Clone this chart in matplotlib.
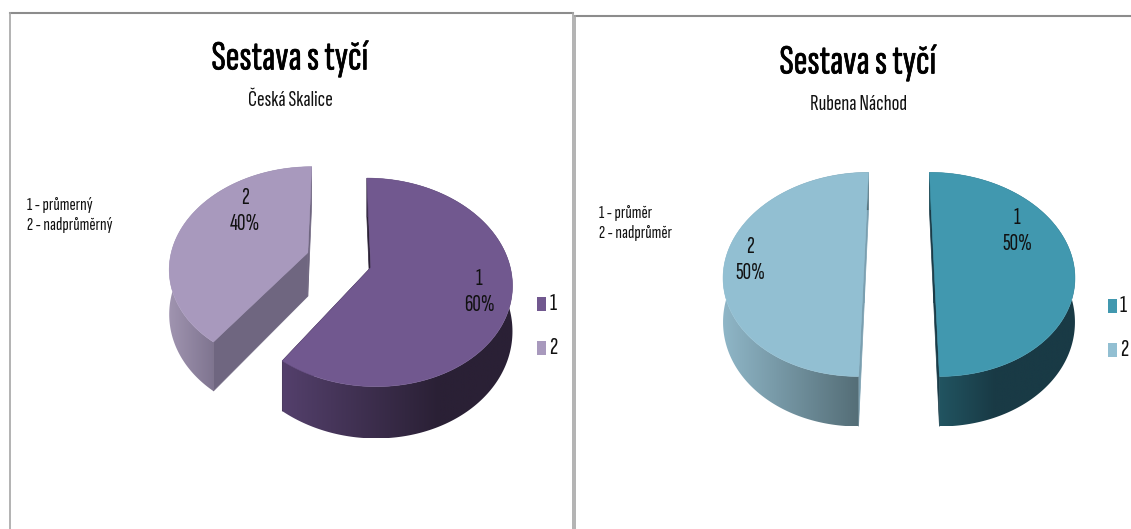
import matplotlib
matplotlib.use('Agg')
import matplotlib.pyplot as plt
import matplotlib.patheffects as pe
import numpy as np
from matplotlib.colors import LinearSegmentedColormap
from matplotlib.patches import Polygon, Rectangle

plt.rcParams['font.family'] = ['Sofia Sans Extra Condensed', 'Pathway Gothic One', 'Lato', 'DejaVu Sans']

title = 'Sestava s tyčí'
subtitles = ['Česká Skalice', 'Rubena Náchod']
notes = ['1 - průmerný\n2 - nadprůměrný', '1 - průměr\n2 - nadprůměr']
categories = ['1', '2']
values_left = [60, 40]
values_right = [50, 50]

top_left = ['#71588f', '#a899bd']
top_right = ['#4198af', '#92bfd2']
cut_left = ['#2b2136', '#6f6680']
cut_right = ['#1a3b47', '#7a9fb0']
# side gradient: left colour, right colour, where the right colour is reached
side_left = [('#54406c', '#2a2035', 0.68), ('#a094b0', '#7d738e', 0.33)]
side_right = [('#235966', '#193a45', 0.45), ('#8fb6c7', '#536c75', 0.95)]


def project(pts, p):
    # flat pie plane -> pixels, simple perspective
    pts = np.asarray(pts)
    w = 1 + p['k'] * pts[:, 1]
    return np.column_stack([p['cx'] + p['b'] * pts[:, 0] / w, p['cy'] - p['a'] * pts[:, 1] / w])


def extruded(pts, p):
    pts = np.asarray(pts)
    out = project(pts, p)
    out[:, 1] += p['depth'] / (1 + p['k'] * pts[:, 1])
    return out


def draw_pie(ax, scratch, values, tops, cuts, sides, p):
    wedges, _ = scratch.pie(values, explode=[p['explode']] * len(values), startangle=90, counterclock=False)
    for w, top, cut, side in zip(wedges, tops, cuts, sides):
        th = np.radians(np.linspace(w.theta1, w.theta2, 240))
        c = np.array(w.center)
        arc = c + w.r * np.column_stack([np.cos(th), np.sin(th)])
        # cut faces
        for end in (arc[0], arc[-1]):
            line = np.array([c, end])
            a, b = project(line, p), extruded(line, p)
            ax.add_patch(Polygon([a[0], a[1], b[1], b[0]], fc=cut, ec=cut, lw=0.5, zorder=2))
        # outer wall, gradient clipped to the wall outline
        a, b = project(arc, p), extruded(arc, p)
        wall = Polygon(np.vstack([a, b[::-1]]), fc='none', ec='none', transform=ax.transData)
        ax.add_patch(wall)
        cmap = LinearSegmentedColormap.from_list('side', [(0, side[0]), (side[2], side[1]), (1, side[1])])
        img = ax.imshow(np.linspace(0, 1, 256)[None, :], cmap=cmap, aspect='auto', zorder=3,
                        extent=(a[:, 0].min(), a[:, 0].max(), b[:, 1].max(), a[:, 1].min()))
        img.set_clip_path(wall)
        # top face
        ax.add_patch(Polygon(np.vstack([project([c], p), a]), fc=top, ec=top, lw=0.4, zorder=4))


fig = plt.figure(figsize=(11.31, 5.29), dpi=100)
scratch = fig.add_axes([0, 0, 0.01, 0.01])
ax = fig.add_axes([0, 0, 1, 1])
ax.axis('off')

# panel frames
ax.plot([10, 573], [13, 13], color='#8c8c8c', lw=1.5, zorder=1)
ax.plot([10, 10], [13, 529], color='#a6a6a6', lw=1.2, zorder=1)
ax.plot([573, 573], [13, 529], color='#a6a6a6', lw=1.2, zorder=1)
ax.plot([575, 1131], [16, 16], color='#8c8c8c', lw=1.5, zorder=1)
ax.plot([575, 575], [16, 529], color='#a6a6a6', lw=1.2, zorder=1)

left = dict(cx=339, cy=260, a=100, b=138, k=0.141, explode=0.24, depth=44)
right = dict(cx=899, cy=260, a=100, b=139, k=0.141, explode=0.25, depth=43)
draw_pie(ax, scratch, values_left, top_left, cut_left, side_left, left)
draw_pie(ax, scratch, values_right, top_right, cut_right, side_right, right)
scratch.remove()

ax.set_xlim(0, 1131)
ax.set_ylim(529, 0)

txt = '#111111'
bold = [pe.withStroke(linewidth=0.5, foreground='black')]
ax.text(290, 59, title, fontsize=30, ha='center', va='center', color='black', path_effects=bold)
ax.text(858, 63, title, fontsize=30, ha='center', va='center', color='black', path_effects=bold)
ax.text(290, 100, subtitles[0], fontsize=16.5, ha='center', va='center', color=txt)
ax.text(858, 104, subtitles[1], fontsize=16.5, ha='center', va='center', color=txt)
ax.text(27, 215, notes[0], fontsize=13.5, ha='left', va='center', color=txt, linespacing=1.3)
ax.text(599, 223, notes[1], fontsize=13.5, ha='left', va='center', color=txt, linespacing=1.3)

label_size = 17
ax.text(479, 292, f'{categories[0]}\n{values_left[0]}%', fontsize=label_size, ha='center', va='center', color=txt, zorder=6, linespacing=1.2)
ax.text(245, 211, f'{categories[1]}\n{values_left[1]}%', fontsize=label_size, ha='center', va='center', color=txt, zorder=6, linespacing=1.2)
ax.text(1017, 231, f'{categories[0]}\n{values_right[0]}%', fontsize=label_size, ha='center', va='center', color=txt, zorder=6, linespacing=1.2)
ax.text(750, 260, f'{categories[1]}\n{values_right[1]}%', fontsize=label_size, ha='center', va='center', color=txt, zorder=6, linespacing=1.2)

# legends
for x0, tops, ys in [(537, top_left, (304, 348)), (1108, top_right, (306, 350))]:
    for cat, col, y in zip(categories, tops, ys):
        ax.add_patch(Rectangle((x0, y - 7), 9, 14, fc=col, ec='none', zorder=6))
        ax.text(x0 + 12, y, cat, fontsize=18, ha='left', va='center', color=txt)

fig.savefig('out.png', dpi=100)
